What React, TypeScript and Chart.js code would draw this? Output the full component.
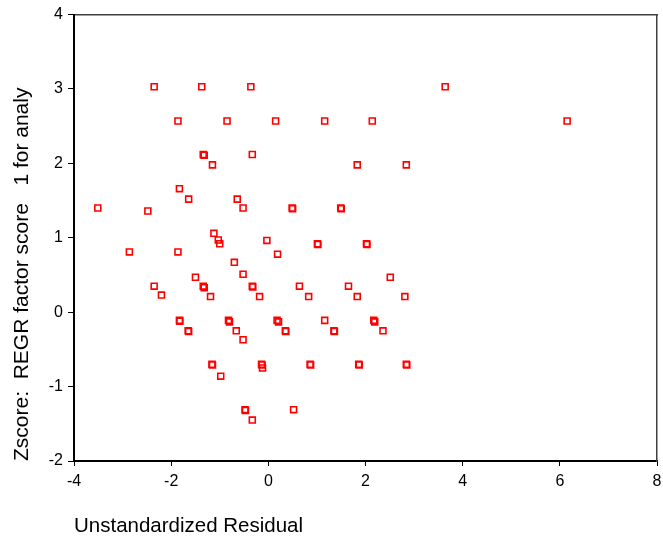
import React, { useEffect, useRef } from "react";
import { Chart, registerables } from "chart.js";

Chart.register(...registerables);

// Unstandardized Residual (x) and Zscore: REGR factor score 1 (y)
const residualX: number[] = [
  -2.35, -1.37, -0.36, 3.64,
  -1.86, -0.85, 0.15, 1.16, 2.14, 6.15,
  -1.34, -1.32, -0.33,
  -1.15, 1.83, 2.84,
  -1.83, -1.64, -0.64,
  -3.51, -2.48, -0.52, 0.49, 0.5, 1.49, 1.5,
  -1.12, -1.03, -1.0, -0.03, 1.01, 1.02, 2.02, 2.03,
  -2.86, -1.86, 0.19,
  -0.7, -0.52, -1.5, 2.51,
  -2.35, -1.34, -1.32, -0.33, -0.32, 0.64, 1.65,
  -2.2, -1.19, -0.18, 0.83, 1.83, 2.81,
  -1.83, -1.82, -0.82, -0.8, 0.18, 0.21, 1.16, 2.17, 2.19,
  -1.65, -1.64, -0.66, 0.35, 0.36, 1.35, 1.36, 2.36,
  -0.52,
  -1.16, -1.15, -0.14, -0.13, -0.12, 0.86, 0.87, 1.86, 1.87, 2.84, 2.85,
  -0.98,
  -0.48, -0.47, 0.52, -0.33,
];

const zscoreY: number[] = [
  3.03, 3.03, 3.03, 3.03,
  2.57, 2.57, 2.57, 2.57, 2.57, 2.57,
  2.12, 2.11, 2.12,
  1.98, 1.98, 1.98,
  1.66, 1.52, 1.52,
  1.4, 1.36, 1.4, 1.4, 1.39, 1.4, 1.39,
  1.06, 0.97, 0.92, 0.965, 0.92, 0.91, 0.92, 0.91,
  0.81, 0.81, 0.78,
  0.67, 0.51, 0.47, 0.47,
  0.35, 0.35, 0.33, 0.35, 0.34, 0.35, 0.35,
  0.23, 0.21, 0.21, 0.21, 0.21, 0.21,
  -0.11, -0.12, -0.11, -0.13, -0.11, -0.13, -0.11, -0.11, -0.13,
  -0.25, -0.26, -0.25, -0.25, -0.26, -0.25, -0.26, -0.25,
  -0.37,
  -0.7, -0.71, -0.7, -0.71, -0.75, -0.7, -0.71, -0.7, -0.71, -0.7, -0.71,
  -0.86,
  -1.31, -1.32, -1.31, -1.45,
];

const xTitle = "Unstandardized Residual";
const yTitle = "Zscore:  REGR factor score   1 for analy";

const FONT = "'Liberation Sans', Arial, Helvetica, sans-serif";

export default function App() {
  const ref = useRef<HTMLCanvasElement | null>(null);

  useEffect(() => {
    if (!ref.current) return;
    const points = residualX.map((x, i) => ({ x, y: zscoreY[i] }));
    const chart = new Chart(ref.current, {
      type: "scatter",
      data: {
        datasets: [
          {
            data: points,
            pointStyle: "rect",
            pointRadius: 4.2,
            pointHoverRadius: 4.2,
            borderWidth: 1.6,
            borderColor: "#ff0000",
            backgroundColor: "rgba(0,0,0,0)",
          },
        ],
      },
      options: {
        animation: false,
        responsive: false,
        devicePixelRatio: 1,
        layout: { padding: { left: 0, top: 14, right: 6, bottom: 0 } },
        plugins: {
          legend: { display: false },
          tooltip: { enabled: false },
        },
        scales: {
          x: {
            type: "linear",
            position: "bottom",
            min: -4,
            max: 8,
            ticks: {
              stepSize: 2,
              color: "#000",
              font: { family: FONT, size: 16 },
              padding: 6,
            },
            grid: {
              display: true,
              drawOnChartArea: false,
              drawTicks: true,
              tickLength: 5,
              color: "#000",
              lineWidth: 1,
            },
            border: { display: true, color: "#000", width: 2 },
            title: {
              display: true,
              text: xTitle,
              align: "start",
              color: "#000",
              font: { family: FONT, size: 20.5 },
              padding: { top: 0, bottom: 5 },
            },
            afterFit: (s: any) => {
              s.height = 83;
              s.paddingLeft = 0;
              s.paddingRight = 0;
            },
          },
          xTop: {
            type: "linear",
            position: "top",
            min: -4,
            max: 8,
            ticks: { display: false },
            grid: { display: false, drawTicks: false },
            border: { display: true, color: "#404040", width: 1.5 },
            afterFit: (s: any) => {
              s.height = 0;
              s.paddingLeft = 0;
              s.paddingRight = 0;
            },
          },
          y: {
            type: "linear",
            position: "left",
            min: -2,
            max: 4,
            ticks: {
              stepSize: 1,
              color: "#000",
              font: { family: FONT, size: 16 },
              padding: 5,
            },
            grid: {
              display: true,
              drawOnChartArea: false,
              drawTicks: true,
              tickLength: 6,
              color: "#000",
              lineWidth: 1,
            },
            border: { display: true, color: "#000", width: 2 },
            title: {
              display: true,
              text: yTitle,
              align: "start",
              color: "#000",
              font: { family: FONT, size: 21 },
              padding: { top: 10, bottom: 0 },
            },
            afterFit: (s: any) => {
              s.width = 74;
            },
          },
          yRight: {
            type: "linear",
            position: "right",
            min: -2,
            max: 4,
            ticks: { display: false },
            grid: { display: false, drawTicks: false },
            border: { display: true, color: "#404040", width: 1.5 },
            afterFit: (s: any) => {
              s.width = 0;
            },
          },
        },
      },
    });
    return () => chart.destroy();
  }, []);

  return (
    <div
      style={{
        position: "absolute",
        left: 0,
        top: 0,
        width: 663,
        height: 544,
        background: "#fff",
      }}
    >
      <canvas ref={ref} width={663} height={544} style={{ display: "block" }} />
    </div>
  );
}
